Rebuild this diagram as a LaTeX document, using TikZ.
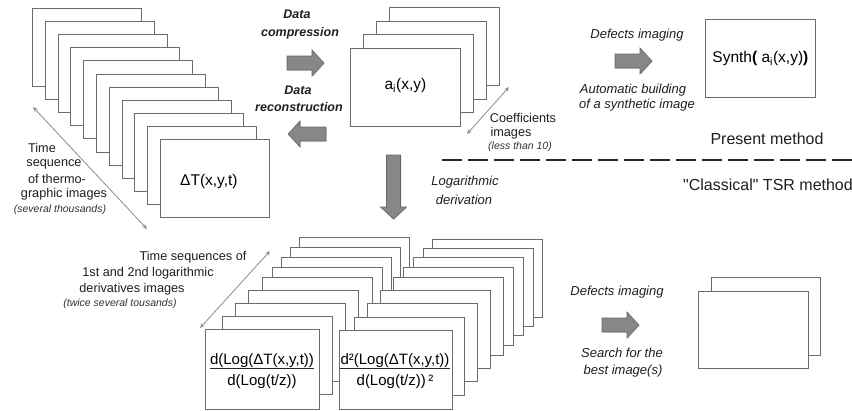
\documentclass[tikz,border=0pt]{standalone}
\usepackage{fontspec}
\setmainfont{Liberation Sans}[Ligatures=TeXOff]
\usetikzlibrary{arrows.meta,shadows}

% grey block arrow: start point, rotation, total length
\newcommand\blockarrow[4]{%
  \begin{scope}[shift={(#1,#2)},rotate=#3]
    \draw[blk] (0,-7) -- ({#4-12},-7) -- ({#4-12},-13) -- (#4,0)
      -- ({#4-12},13) -- ({#4-12},7) -- (0,7) -- cycle;
  \end{scope}}

\begin{document}
\begin{tikzpicture}[x=1pt,y=-1pt,
  card/.style={draw=black!58, fill=white, line width=0.8pt, anchor=north west,
    inner sep=0pt, minimum width=110pt, minimum height=78pt,
    font=\fontsize{15.5}{18}\selectfont},
  cardtext/.style={inner sep=0pt, font=\fontsize{15.5}{18}\selectfont},
  formula/.style={inner sep=0pt, font=\fontsize{15}{18}\selectfont},
  lab/.style={inner sep=0pt, text=black!88, font=\fontsize{12.7}{15}\selectfont},
  itlab/.style={inner sep=0pt, text=black!88, font=\itshape\fontsize{13}{16}\selectfont},
  boldlab/.style={inner sep=0pt, text=black!88, font=\bfseries\itshape\fontsize{12.5}{15}\selectfont},
  note/.style={inner sep=0pt, text=black!80, font=\itshape\fontsize{10.5}{12}\selectfont},
  big/.style={inner sep=0pt, text=black!88, font=\fontsize{16}{19}\selectfont},
  blk/.style={fill=black!47, draw=black!60, line width=0.6pt,
    drop shadow={opacity=0.2, shadow xshift=1pt, shadow yshift=-1pt}},
  twoway/.style={draw=black!45, line width=0.8pt,
    {Stealth[length=5pt,width=4pt]}-{Stealth[length=5pt,width=4pt]}},
  sep/.style={draw=black!85, line width=1.3pt, dash pattern=on 20pt off 6pt}
]
\useasboundingbox (0,0) rectangle (852,410);
\fill[white] (0,0) rectangle (852,410);

% ---- thermographic sequence (top left)
\foreach \k in {0,...,10}
  \node[card, minimum width=109pt] (T\k) at ({32+12.8*\k},{8+13.1*\k}) {};
\node[cardtext] (dT) at ([xshift=-6pt,yshift=-3pt]T10.center) {ΔT(x,y,t)};

\coordinate (tsA) at (33,107);
\coordinate (tsB) at (147,229);
\draw[twoway] (tsA) -- (tsB);
\node[lab] (ts1) at (42,148) {Time};
\node[lab] (ts2) at (54,164) {sequence};
\node[lab] (ts3) at (57,179) {of thermo-};
\node[lab] (ts4) at (64,194) {graphic images};
\node[note] (ts5) at (60,210) {(several thousands)};

% ---- compression / reconstruction
\node[boldlab] (dc1) at (297,14) {Data};
\node[boldlab] (dc2) at (300,33) {compression};
\blockarrow{287}{63}{0}{37}
\node[boldlab] (dr1) at (298,90) {Data};
\node[boldlab] (dr2) at (299,107) {reconstruction};
\blockarrow{326}{134}{180}{38}

% ---- coefficient images
\foreach \k in {0,...,3}
  \node[card] (A\k) at ({389-13*\k},{7+13.67*\k}) {};
\node[cardtext] (ai) at ([yshift=2pt]A3.center) {a\textsubscript{i}(x,y)};

\coordinate (cfA) at (509,87);
\coordinate (cfB) at (467,134);
\draw[twoway] (cfA) -- (cfB);
\node[lab] (cf1) at (523,118) {Coefficients};
\node[lab] (cf2) at (511,133) {images};
\node[note] (cf3) at (520,147) {(less than 10)};

% ---- synthetic image (present method)
\node[itlab] (di1) at (637,35) {Defects imaging};
\blockarrow{615}{61}{0}{37}
\node[itlab] (di2) at (633,90) {Automatic building};
\node[itlab] (di3) at (637,105) {of a synthetic image};
\node[card] (syn) at (705,19) {Synth\textbf{(} a\textsubscript{i}(x,y)\textbf{)}};

% ---- method separator
\coordinate (sepA) at (442,160);
\coordinate (sepB) at (852,160);
\draw[sep] (sepA) -- (sepB);
\node[big] (pm) at (767,139) {Present method};
\node[big] (cm) at (768,185) {"Classical" TSR method};

% ---- logarithmic derivation
\blockarrow{393.5}{155}{-90}{64}
\node[itlab] (ld1) at (465,182) {Logarithmic};
\node[itlab] (ld2) at (464,200) {derivation};

% ---- first derivative sequence
\foreach \x/\y [count=\i] in {299/237,290/247,281/257,272/267,262/277,248/290,235/303,222/316}
  \node[card] (L\i) at (\x,\y) {};
\node[card, minimum width=114pt, minimum height=80pt] (Lf) at (205,329) {};
\node[formula] (n1) at (262,361) {d(Log(ΔT(x,y,t))};
\node[formula] (d1) at (262,382) {d(Log(t/z))};
\draw[line width=1pt, black!85] (n1.south west) -- (n1.south east);

% ---- second derivative sequence
\foreach \x/\y [count=\i] in {432/239,423/248,413/257,403/267,393/277,380/290,367/303,354/317}
  \node[card] (M\i) at (\x,\y) {};
\node[card, minimum width=113pt, minimum height=79pt] (Mf) at (339,330) {};
\node[formula] (n2) at (395,361) {d²(Log(ΔT(x,y,t))};
\node[formula] (d2) at (395,382) {d(Log(t/z))\,²};
\draw[line width=1pt, black!85] (n2.south west) -- (n2.south east);

\coordinate (dsA) at (270,251);
\coordinate (dsB) at (200,328);
\draw[twoway] (dsA) -- (dsB);
\node[lab] (ds1) at (193,257) {Time sequences of};
\node[lab] (ds2) at (148,273) {1st and 2nd logarithmic};
\node[lab] (ds3) at (132,289) {derivatives images};
\node[note] (ds4) at (120,304) {(twice several tousands)};

% ---- best image search (classical method)
\node[itlab] (bi1) at (617,292) {Defects imaging};
\blockarrow{602}{325}{0}{37}
\node[itlab] (bi2) at (622,353) {Search for the};
\node[itlab] (bi3) at (623,371) {best image(s)};
\node[card, minimum width=109pt] (R1) at (711,277) {};
\node[card, minimum height=77pt] (R2) at (698,291) {};
\end{tikzpicture}
\end{document}
